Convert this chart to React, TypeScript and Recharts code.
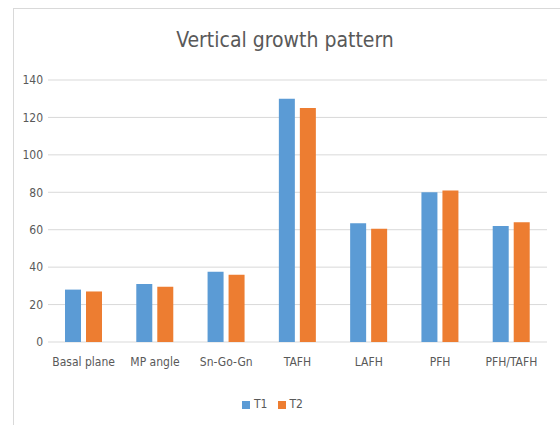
import React from 'react';
import { BarChart, Bar, CartesianGrid, XAxis, YAxis, Legend } from 'recharts';

const categories = ['Basal plane', 'MP angle', 'Sn-Go-Gn', 'TAFH', 'LAFH', 'PFH', 'PFH/TAFH'];
const t1Values = [28, 31, 37.5, 130, 63.5, 80, 62];
const t2Values = [27, 29.5, 36, 125, 60.5, 81, 64];
const yTicks = [0, 20, 40, 60, 80, 100, 120, 140];

const FONT = "'Liberation Sans Narrow', 'DejaVu Sans Condensed', 'Open Sans', sans-serif";
const TEXT = '#595959';

const data = categories.map((name, i) => ({ name, T1: t1Values[i], T2: t2Values[i] }));

export default function App() {
  return (
    <div style={{ position: 'fixed', left: 0, top: 0, width: 560, height: 425, background: '#fff', overflow: 'hidden', fontFamily: FONT }}>
      <div style={{ position: 'absolute', left: 13, top: 8, width: 547, height: 417, borderLeft: '1px solid #d9d9d9', borderTop: '1px solid #d9d9d9' }} />
      <div style={{ position: 'absolute', left: 0, top: 28, width: 570, textAlign: 'center', fontSize: 21, color: TEXT }}>
        Vertical growth pattern
      </div>
      <div style={{ position: 'absolute', left: 0, top: 0 }}>
        <BarChart
          width={560}
          height={425}
          data={data}
          margin={{ top: 80, right: 13, bottom: 15, left: 8 }}
          barGap={5}
          barSize={16}
        >
          <CartesianGrid vertical={false} stroke="#d9d9d9" strokeWidth={1} />
          <XAxis
            dataKey="name"
            axisLine={false}
            tickLine={false}
            tickMargin={9}
            height={54}
            interval={0}
            tick={{ fill: TEXT, fontSize: 12, fontFamily: FONT }}
          />
          <YAxis
            width={40}
            domain={[0, 140]}
            ticks={yTicks}
            axisLine={false}
            tickLine={false}
            tickSize={3}
            tick={{ fill: TEXT, fontSize: 12, fontFamily: FONT }}
          />
          <Legend
            verticalAlign="bottom"
            iconType="square"
            iconSize={8}
            wrapperStyle={{ bottom: 14, fontSize: 12, fontFamily: FONT }}
            formatter={(value: string) => <span style={{ color: TEXT }}>{value}</span>}
          />
          <Bar dataKey="T1" fill="#5B9BD5" isAnimationActive={false} />
          <Bar dataKey="T2" fill="#ED7D31" isAnimationActive={false} />
        </BarChart>
      </div>
    </div>
  );
}
